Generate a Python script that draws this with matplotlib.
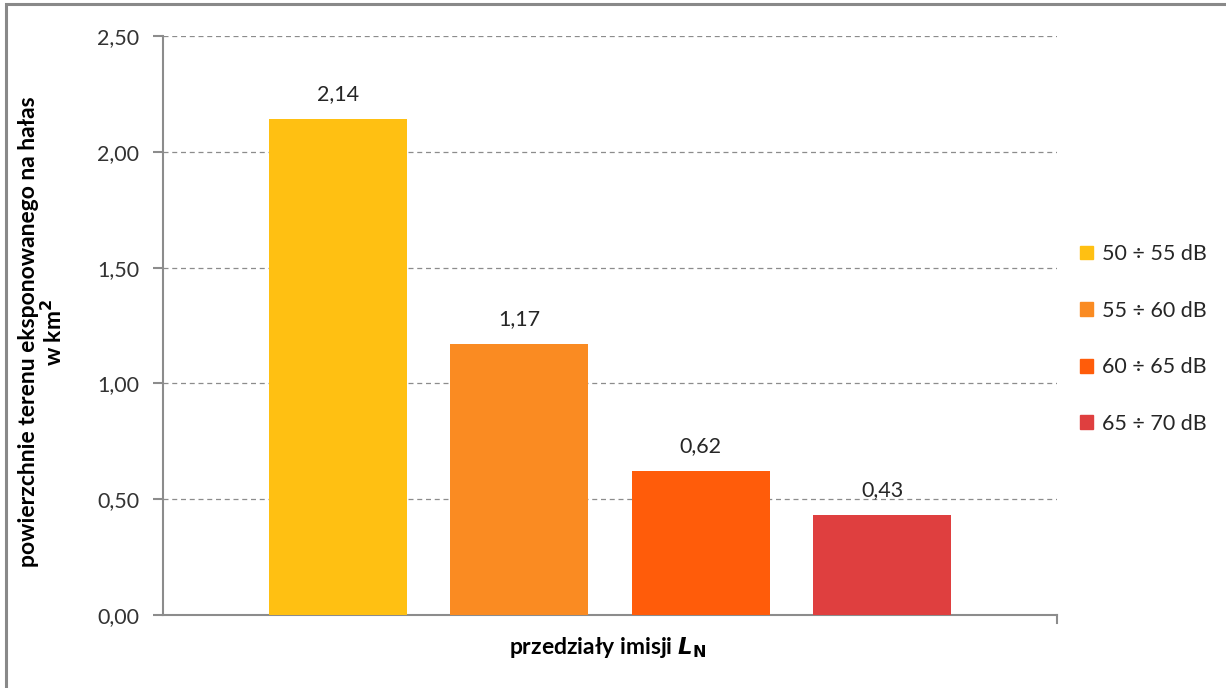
import matplotlib
matplotlib.use("Agg")
import matplotlib.pyplot as plt
from matplotlib.patches import Rectangle

plt.rcParams['font.family'] = ['Lato', 'DejaVu Sans']

categories = ["50 ÷ 55 dB", "55 ÷ 60 dB", "60 ÷ 65 dB", "65 ÷ 70 dB"]
values = [2.14, 1.17, 0.62, 0.43]
value_labels = ["2,14", "1,17", "0,62", "0,43"]
colors = ["#FFC012", "#FA8B22", "#FF5C0A", "#DF3F3F"]
yticks = [0.0, 0.5, 1.0, 1.5, 2.0, 2.5]
ytick_labels = ["0,00", "0,50", "1,00", "1,50", "2,00", "2,50"]

W, H = 1226, 688
fig = plt.figure(figsize=(W / 100, H / 100), dpi=100)
ax = fig.add_axes([163 / W, 1 - 615 / H, (1057 - 163) / W, (615 - 36) / H])

# chart border (left and top visible)
fig.add_artist(Rectangle((6 / W, -0.1), 1.2, 1 - 4 / H + 0.1, transform=fig.transFigure,
                         fill=False, edgecolor="#898989", linewidth=2.2, zorder=0))

x = list(range(len(values)))
bars = ax.bar(x, values, width=0.76, color=colors, zorder=3)
for i, (v, lab) in enumerate(zip(values, value_labels)):
    ax.annotate(lab, (i, v), xytext=(0, 11), textcoords="offset points",
                ha="center", va="bottom", fontsize=15.5, color="#262626")

ax.set_xlim(-0.965, 3.965)
ax.set_ylim(0, 2.5)
ax.set_yticks(yticks)
ax.set_yticklabels(ytick_labels, fontsize=15.5, color="#333333")
ax.set_xticks([])
ax.yaxis.grid(True, linestyle=(0, (4, 3)), color="#8c8c8c", linewidth=0.9, zorder=0)
ax.set_axisbelow(True)
for s in ["top", "right"]:
    ax.spines[s].set_visible(False)
for s in ["left", "bottom"]:
    ax.spines[s].set_color("#8c8c8c")
    ax.spines[s].set_linewidth(1.5)
ax.tick_params(axis="y", length=7, width=1.5, color="#8c8c8c", pad=10)
# right end tick of x axis
ax.plot([1, 1], [0, -0.014], transform=ax.transAxes, color="#8c8c8c",
        linewidth=1.5, clip_on=False)

fig.text(42 / W, 1 - 332 / H, "powierzchnie terenu eksponowanego na hałas\nw km$^\\mathbf{2}$",
         rotation=90, ha="center", va="center", multialignment="center",
         fontsize=16.5, fontweight="bold", color="#000000", linespacing=1.05)
fig.text(608 / W, 1 - 648 / H, "przedziały imisji $\\mathbfit{L}_{\\mathbf{N}}$",
         ha="center", va="center", fontsize=16.5, fontweight="bold")

handles = [Rectangle((0, 0), 1, 1, color=c) for c in colors]
leg = fig.legend(handles, categories, loc="center left", bbox_to_anchor=(1061 / W, 1 - 339 / H),
                 frameon=False, fontsize=15.5, handlelength=0.6, handleheight=0.6,
                 handletextpad=0.4, labelspacing=1.7, labelcolor="#262626")

fig.savefig("out.png", dpi=100)
